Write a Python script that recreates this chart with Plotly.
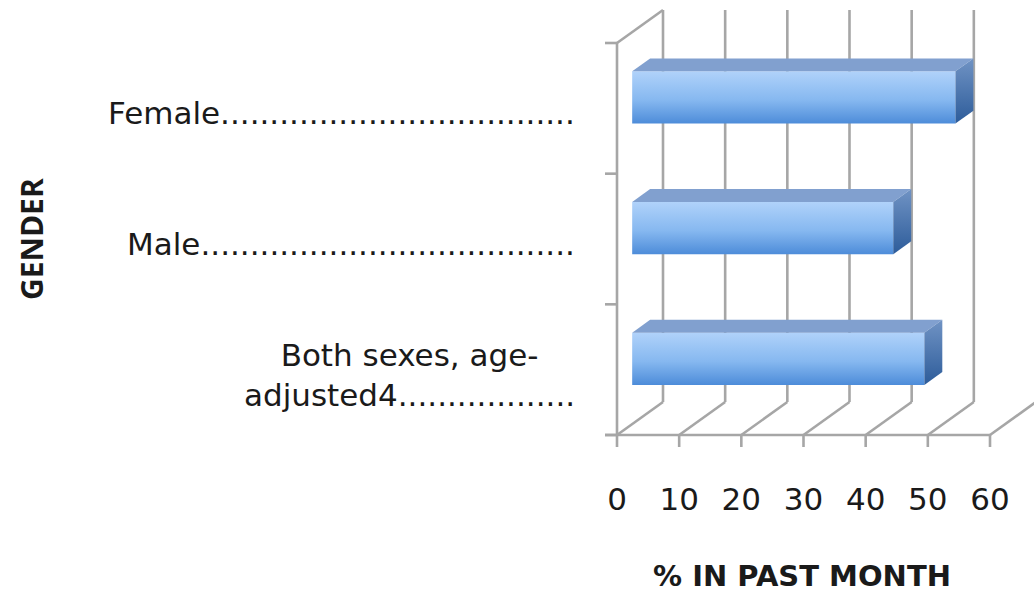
import plotly.graph_objects as go

# ---- data -------------------------------------------------------------
categories = ["Both sexes, age-adjusted4", "Male", "Female"]
category_labels = [
    "Both sexes, age-<br>adjusted4" + "." * 18,
    "Male" + "." * 38,
    "Female" + "." * 36,
]
pct_past_month = [47, 42, 52]
x_ticks = [0, 10, 20, 30, 40, 50, 60]
x_tick_labels = ["0", "10", "20", "30", "40", "50", "60"]

# ---- geometry of the pseudo-3D box ------------------------------------
W, H = 1034, 593
PLOT_BOTTOM_PX = 470          # plot area spans y pixels 0..470, full width
X0_PX, X60_PX = 617, 990      # front-floor pixel of value 0 and 60
FLOOR_PX, TOP_PX = 435, 43    # front pixel of the floor and wall top
kx = (X60_PX - X0_PX) / 60.0
ky = (FLOOR_PX - TOP_PX) / 3.0
x_range = [(0 - X0_PX) / kx, (W - X0_PX) / kx]
y_range = [-0.5 - (PLOT_BOTTOM_PX - FLOOR_PX) / ky, -0.5 + FLOOR_PX / ky]

DX = 46 / kx                  # depth vector in axis units
DY = 33 / ky
TICK_X = 12 / kx
TICK_Y = 12 / ky
y_lo, y_hi = -0.5, len(categories) - 0.5

GRID = "#a6a6a6"
GW = 2.6

fig = go.Figure()


def segs(pairs):
    xs, ys = [], []
    for (xa, ya), (xb, yb) in pairs:
        xs += [xa, xb, None]
        ys += [ya, yb, None]
    return xs, ys


def add_lines(pairs):
    xs, ys = segs(pairs)
    fig.add_trace(go.Scatter(x=xs, y=ys, mode="lines",
                             line=dict(color=GRID, width=GW),
                             hoverinfo="skip", showlegend=False))


# back wall verticals
add_lines([((v + DX, y_lo + DY), (v + DX, y_hi + DY)) for v in x_ticks])
# floor depth lines
add_lines([((v, y_lo), (v + DX, y_lo + DY)) for v in x_ticks])
# front floor edge and its ticks
add_lines([((-TICK_X, y_lo), (x_ticks[-1], y_lo))])
add_lines([((v, y_lo), (v, y_lo - TICK_Y)) for v in x_ticks])
# left wall edge, category ticks and top depth line
add_lines([((0, y_lo), (0, y_hi))])
add_lines([((-TICK_X, b - 0.5), (0, b - 0.5)) for b in range(len(categories) + 1)])
add_lines([((0, y_hi), (DX, y_hi + DY))])

# ---- bars -------------------------------------------------------------
D1, D2 = 0.33, 0.72           # front / back depth fraction of each bar
HALF = 0.2                    # half thickness in category units

front_scale = [[0, "#4d8cd9"], [0.45, "#86b8f0"], [1, "#b0d2fa"]]
end_scale = [[0, "#2d5c9a"], [1, "#7093c4"]]
TOP_COLOR = "#81a0cf"

for i, v in enumerate(pct_past_month):
    fx, fy = D1 * DX, D1 * DY
    bx, by = D2 * DX, D2 * DY
    yb, yt = i - HALF, i + HALF
    # front face
    fig.add_trace(go.Scatter(
        x=[fx, fx + v, fx + v, fx, fx],
        y=[yb + fy, yb + fy, yt + fy, yt + fy, yb + fy],
        mode="lines", line=dict(width=0), fill="toself",
        fillgradient=dict(type="vertical", colorscale=front_scale),
        hoverinfo="skip", showlegend=False))
    # top face
    fig.add_trace(go.Scatter(
        x=[fx, fx + v, bx + v, bx, fx],
        y=[yt + fy, yt + fy, yt + by, yt + by, yt + fy],
        mode="lines", line=dict(width=0), fill="toself",
        fillcolor=TOP_COLOR, hoverinfo="skip", showlegend=False))
    # end face
    fig.add_trace(go.Scatter(
        x=[fx + v, bx + v, bx + v, fx + v, fx + v],
        y=[yb + fy, yb + by, yt + by, yt + fy, yb + fy],
        mode="lines", line=dict(width=0), fill="toself",
        fillgradient=dict(type="vertical", colorscale=end_scale),
        hoverinfo="skip", showlegend=False))

# ---- labels -----------------------------------------------------------
LABEL_FONT = dict(family="DejaVu Sans", size=31, color="#1a1a1a")
annotations = []
for i, lab in enumerate(category_labels):
    annotations.append(dict(
        x=577 / W, xref="paper", y=i, yref="y", yshift=-5,
        text=lab, showarrow=False, xanchor="right", yanchor="middle",
        align="center", font=LABEL_FONT))

annotations.append(dict(
    x=31 / W, xref="paper", y=1 - 239 / H, yref="paper",
    text="GENDER", textangle=-90, showarrow=False,
    xanchor="center", yanchor="middle",
    font=dict(family="Open Sans", size=30, color="#1a1a1a", weight=700)))

annotations.append(dict(
    x=802 / W, xref="paper", y=1 - 576 / H, yref="paper",
    text="% IN PAST MONTH", showarrow=False,
    xanchor="center", yanchor="middle",
    font=dict(family="DejaVu Sans", size=29, color="#1a1a1a", weight=700)))

fig.update_layout(
    width=W, height=H, autosize=False,
    margin=dict(l=0, r=0, t=0, b=0),
    paper_bgcolor="white", plot_bgcolor="white",
    showlegend=False,
    annotations=annotations,
    xaxis=dict(range=x_range, domain=[0, 1], showgrid=False, zeroline=False,
               showline=False, ticks="", tickvals=x_ticks,
               ticktext=x_tick_labels, tickfont=LABEL_FONT,
               ticklabelstandoff=8, fixedrange=True),
    yaxis=dict(range=y_range, domain=[1 - PLOT_BOTTOM_PX / H, 1],
               showgrid=False, zeroline=False, showline=False,
               showticklabels=False, ticks="", fixedrange=True),
)

fig.write_html("out.html")
